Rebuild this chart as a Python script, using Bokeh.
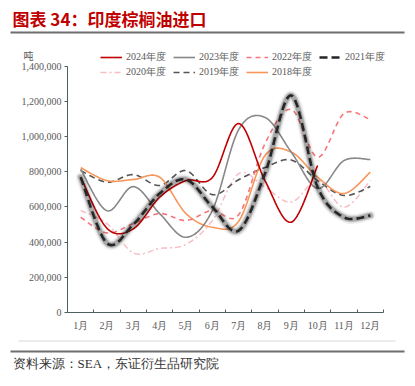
import numpy as np
from bokeh.plotting import figure
from bokeh.models import (Range1d, FixedTicker, NumeralTickFormatter, Legend,
                          LegendItem, Label, BoxAnnotation, LinearAxis)
from bokeh.embed import file_html
from bokeh.resources import INLINE

# ---------------- data ----------------
months = ["1月", "2月", "3月", "4月", "5月", "6月", "7月", "8月", "9月", "10月", "11月", "12月"]
y_ticks = [0, 200000, 400000, 600000, 800000, 1000000, 1200000, 1400000]

s2024 = [770000, 478000, 475000, 655000, 750000, 767000, 1075000, 750000, 513000, 836000]
s2023 = [815000, 578000, 716000, 562000, 427000, 580000, 1040000, 1110000, 912000, 705000, 864000, 870000]
s2022 = [541000, 452000, 505000, 562000, 523000, 580000, 555000, 960000, 1155000, 883000, 1132000, 1098000]
s2021 = [769000, 393000, 500000, 676000, 756000, 600000, 465000, 790000, 1235000, 712000, 541000, 551000]
s2020 = [580000, 505000, 338000, 363000, 386000, 522000, 790000, 712000, 627000, 750000, 598000, 750000]
s2019 = [807000, 741000, 784000, 722000, 807000, 670000, 755000, 825000, 867000, 750000, 665000, 716000]
s2018 = [824000, 750000, 756000, 769000, 562000, 484000, 518000, 893000, 912000, 769000, 676000, 798000]


def smooth(vals, n=20):
    """Bezier smoothing (like a spreadsheet 'smoothed line') through the monthly values."""
    xs = np.arange(1, len(vals) + 1, dtype=float)
    P = np.column_stack([xs, np.asarray(vals, dtype=float)])
    out = []
    m = len(P)
    for i in range(m - 1):
        p0 = P[i - 1] if i > 0 else P[i]
        p1 = P[i]
        p2 = P[i + 1]
        p3 = P[i + 2] if i + 2 < m else P[i + 1]
        c1 = p1 + (p2 - p0) / 6.0
        c2 = p2 - (p3 - p1) / 6.0
        t = np.linspace(0, 1, n, endpoint=(i == m - 2))[:, None]
        seg = ((1 - t) ** 3) * p1 + 3 * ((1 - t) ** 2) * t * c1 + 3 * (1 - t) * t * t * c2 + (t ** 3) * p2
        out.append(seg)
    arr = np.vstack(out)
    return arr[:, 0], arr[:, 1]


# The frame fills the whole canvas; the axes are drawn at fixed locations
# (x = 0.5 for the value axis, y = 0 for the month axis) and bounded to the data extent.
W, H = 405, 376
X0, X1 = -2.044, 13.336
Y0, Y1 = -366382, 1776089
p = figure(width=W, height=H, output_backend="svg", toolbar_location=None,
           x_range=Range1d(X0, X1), y_range=Range1d(Y0, Y1),
           x_axis_type=None, y_axis_type=None,
           min_border_left=0, min_border_right=0, min_border_top=0, min_border_bottom=0)
p.outline_line_color = None
p.background_fill_color = "white"
p.border_fill_color = "white"

axis_col = "#4d5f5f"
lab_col = "#595959"
serif = "Liberation Serif"

yax = LinearAxis(fixed_location=0.5, bounds=(0, 1400000),
                 ticker=FixedTicker(ticks=y_ticks),
                 formatter=NumeralTickFormatter(format="0,0"))
yax.major_tick_out = 3
yax.major_tick_in = 0
yax.minor_tick_out = 0
yax.minor_tick_in = 0
yax.axis_line_color = axis_col
yax.major_tick_line_color = axis_col
yax.major_label_text_font = serif
yax.major_label_text_font_size = "10px"
yax.major_label_text_color = lab_col
yax.major_label_standoff = 3
p.add_layout(yax, "left")

xax = LinearAxis(fixed_location=0, bounds=(0.5, 12.5),
                 ticker=FixedTicker(ticks=list(range(1, 13)),
                                    minor_ticks=[0.5 + i for i in range(13)]))
xax.major_label_overrides = {i + 1: m for i, m in enumerate(months)}
xax.major_tick_in = 0
xax.major_tick_out = 0
xax.minor_tick_in = 3
xax.minor_tick_out = 0
xax.axis_line_color = axis_col
xax.minor_tick_line_color = axis_col
xax.major_label_text_font = serif
xax.major_label_text_font_size = "10px"
xax.major_label_text_color = lab_col
xax.major_label_standoff = 8
p.add_layout(xax, "below")

# ---------------- lines ----------------
x, y = smooth(s2020)
r2020 = p.line(x, y, line_color="#F8BCC3", line_width=1.5, line_dash="6 3 2 3")
x, y = smooth(s2019)
r2019 = p.line(x, y, line_color="#555555", line_width=1.6, line_dash="6 4")
x, y = smooth(s2018)
r2018 = p.line(x, y, line_color="#F7965A", line_width=1.6)
x, y = smooth(s2022)
r2022 = p.line(x, y, line_color="#F4767A", line_width=1.6, line_dash="5 4")
x, y = smooth(s2023)
r2023 = p.line(x, y, line_color="#878787", line_width=1.6)
x, y = smooth(s2024)
r2024 = p.line(x, y, line_color="#C00000", line_width=1.6)
x, y = smooth(s2021)
for w, a in [(10, 0.06), (7, 0.12), (5, 0.2)]:
    p.line(x, y, line_color="black", line_width=w, line_alpha=a, line_join="round", line_cap="round")
r2021 = p.line(x, y, line_color="#262626", line_width=2.6, line_dash="8 4")


def make_legend(items, loc):
    return Legend(items=items, orientation="horizontal", location=loc,
                  border_line_color=None, background_fill_alpha=0,
                  padding=0, margin=0, spacing=3, glyph_width=22, glyph_height=14,
                  label_height=14, label_width=44, label_standoff=4,
                  label_text_font=serif, label_text_font_size="10px",
                  label_text_color=lab_col)


leg1 = make_legend([LegendItem(label="2024年度", renderers=[r2024]),
                    LegendItem(label="2023年度", renderers=[r2023]),
                    LegendItem(label="2022年度", renderers=[r2022]),
                    LegendItem(label="2021年度", renderers=[r2021])], (100, 312.5))
leg2 = make_legend([LegendItem(label="2020年度", renderers=[r2020]),
                    LegendItem(label="2019年度", renderers=[r2019]),
                    LegendItem(label="2018年度", renderers=[r2018])], (100, 297.5))
p.add_layout(leg1)
p.add_layout(leg2)


# ---------------- texts and rules (screen units, y measured up from the bottom) ----------------
def slabel(x, y, text, **kw):
    return Label(x=x, y=y, x_units="screen", y_units="screen", text=text,
                 text_baseline="middle", text_align="left", **kw)


def rule(x0, x1, top, bottom, color):
    return BoxAnnotation(left=x0, right=x1, top=top, bottom=bottom,
                         left_units="screen", right_units="screen",
                         top_units="screen", bottom_units="screen",
                         fill_color=color, fill_alpha=1, line_color=None)


p.add_layout(slabel(12, 358, "图表 34：印度棕榈油进口", text_font="Noto Sans CJK SC",
                    text_font_style="bold", text_font_size="17px", text_color="#C00000"))
p.add_layout(rule(10, 404, 345, 343, "#6d6d6d"))
p.add_layout(slabel(23, 321, "吨", text_font="Noto Sans CJK SC", text_font_size="10px",
                    text_color=lab_col))
p.add_layout(rule(18, 395, 36, 35, "#d9d9d9"))
p.add_layout(rule(10, 404, 26, 24, "#6d6d6d"))
p.add_layout(slabel(12, 13, "资料来源：SEA，东证衍生品研究院", text_font=serif,
                    text_font_size="13px", text_color="#333333"))

open("out.html", "w").write(file_html(p, INLINE))
